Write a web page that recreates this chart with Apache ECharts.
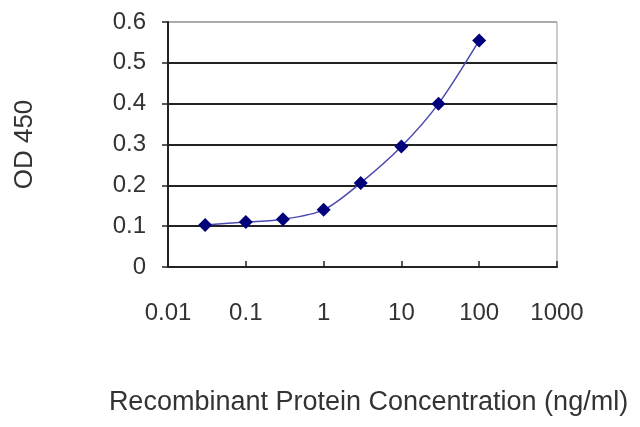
<!DOCTYPE html>
<html>
<head>
<meta charset="utf-8">
<script src="https://cdn.jsdelivr.net/npm/echarts@6/dist/echarts.min.js"></script>
<style>
html, body { margin: 0; padding: 0; background: #fff; }
#chart { width: 640px; height: 427px; }
</style>
</head>
<body>
<div id="chart"></div>
<script>
// concentration (ng/ml) and OD 450
var conc = [0.03, 0.1, 0.3, 1, 3, 10, 30, 100];
var od = [0.103, 0.110, 0.117, 0.140, 0.206, 0.295, 0.400, 0.555];
var xTicks = [0.01, 0.1, 1, 10, 100, 1000];
var yTicks = [0, 0.1, 0.2, 0.3, 0.4, 0.5, 0.6];

var points = [];
for (var i = 0; i < conc.length; i++) {
    points.push([conc[i], od[i]]);
}

var myChart = echarts.init(document.getElementById('chart'));
var option = {
    animation: false,
    textStyle: { fontFamily: 'Liberation Sans' },
    grid: {
        left: 168,
        right: 83,
        top: 22,
        bottom: 160,
        outerBoundsMode: 'none',
        containLabel: false,
        show: true,
        borderColor: '#999',
        borderWidth: 1
    },
    xAxis: {
        type: 'log',
        logBase: 10,
        min: xTicks[0],
        max: xTicks[xTicks.length - 1],
        name: 'Recombinant Protein Concentration (ng/ml)',
        nameLocation: 'middle',
        nameGap: 122,
        nameTextStyle: { fontSize: 27, color: '#333', padding: [0, 0, 0, 12] },
        axisLine: { lineStyle: { color: '#222', width: 2 } },
        axisTick: { inside: true, length: 6, lineStyle: { color: '#222', width: 1.5 } },
        axisLabel: {
            fontSize: 24,
            color: '#333',
            margin: 34,
            formatter: function (v) {
                for (var k = 0; k < xTicks.length; k++) {
                    if (Math.abs(Math.log10(v) - Math.log10(xTicks[k])) < 1e-6) {
                        return String(xTicks[k]);
                    }
                }
                return '';
            }
        },
        splitLine: { show: false }
    },
    yAxis: {
        type: 'value',
        min: yTicks[0],
        max: yTicks[yTicks.length - 1],
        interval: 0.1,
        name: 'OD 450',
        nameLocation: 'middle',
        nameGap: 130,
        nameRotate: 90,
        nameTextStyle: { fontSize: 26, color: '#333' },
        axisLine: { show: true, lineStyle: { color: '#222', width: 2 } },
        axisTick: { show: true, length: 6, lineStyle: { color: '#222', width: 1.5 } },
        axisLabel: {
            fontSize: 24,
            color: '#333',
            margin: 22,
            formatter: function (v) { return String(Math.round(v * 10) / 10); }
        },
        splitLine: {
            lineStyle: {
                color: ['#222', '#222', '#222', '#222', '#222', '#222', '#aaa'],
                width: 2
            }
        }
    },
    series: [
        {
            name: 'OD 450',
            type: 'line',
            data: points,
            smooth: 0.3,
            symbol: 'diamond',
            symbolSize: 14,
            lineStyle: { color: '#4a4ab0', width: 1.5 },
            itemStyle: { color: '#00007a' }
        }
    ]
};
myChart.setOption(option);
</script>
</body>
</html>
